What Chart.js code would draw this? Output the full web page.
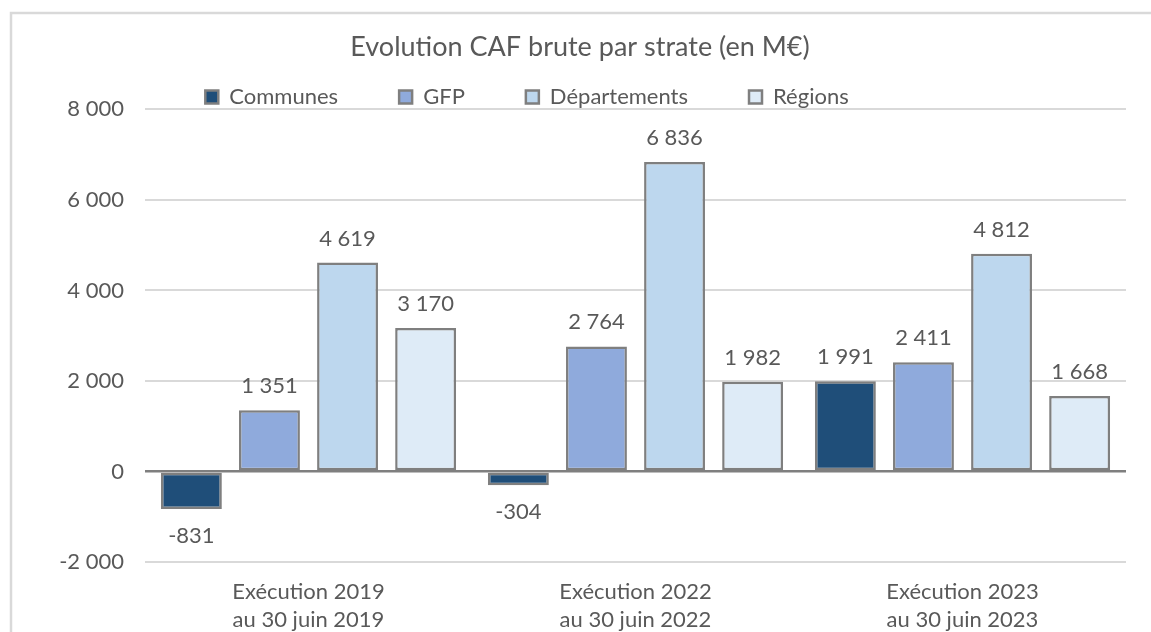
<!DOCTYPE html>
<html>
<head>
<meta charset="utf-8">
<script src="https://cdn.jsdelivr.net/npm/chart.js@4/dist/chart.umd.min.js"></script>
<style>
  html, body { margin: 0; padding: 0; background: #fff; }
  #wrap { width: 1151px; height: 632px; position: relative; }
</style>
</head>
<body>
<div id="wrap"><canvas id="caf-chart"></canvas></div>
<script>
const categories = [
  ['Exécution 2019', 'au 30 juin 2019'],
  ['Exécution 2022', 'au 30 juin 2022'],
  ['Exécution 2023', 'au 30 juin 2023']
];
const seriesNames = ['Communes', 'GFP', 'Départements', 'Régions'];
const communes = [-831, -304, 1991];
const gfp = [1351, 2764, 2411];
const departements = [4619, 6836, 4812];
const regions = [3170, 1982, 1668];
const yTicks = [-2000, 0, 2000, 4000, 6000, 8000];

const colors = ['#1F4E79', '#8FAADC', '#BDD7EE', '#DEEBF7'];
const textColor = '#595959';
const fontFamily = 'Lato, "Open Sans", sans-serif';
const legendGap = 61;

// nombre avec espace comme séparateur de milliers
function fmt(v) {
  const s = Math.abs(v).toString().replace(/\B(?=(\d{3})+(?!\d))/g, ' ');
  return (v < 0 ? '-' : '') + s;
}

const frame = {
  id: 'frame',
  beforeDraw(chart) {
    const ctx = chart.ctx;
    ctx.save();
    ctx.strokeStyle = '#D9D9D9';
    ctx.lineWidth = 2.5;
    ctx.beginPath();
    ctx.moveTo(11, 632);
    ctx.lineTo(11, 13);
    ctx.lineTo(1151, 13);
    ctx.stroke();
    ctx.restore();
  }
};

const valueLabels = {
  id: 'valueLabels',
  afterDatasetsDraw(chart) {
    const ctx = chart.ctx;
    ctx.save();
    ctx.font = '22px ' + fontFamily;
    ctx.fillStyle = textColor;
    ctx.textAlign = 'center';
    ctx.textBaseline = 'middle';
    chart.data.datasets.forEach((ds, i) => {
      chart.getDatasetMeta(i).data.forEach((bar, j) => {
        const v = ds.data[j];
        const y = v >= 0 ? bar.y - 24 : bar.y + 27;
        ctx.fillText(fmt(v), bar.x, y);
      });
    });
    ctx.restore();
  }
};

// legend takes 34px in the layout, but is drawn higher so its big padding fits
const legendFix = {
  id: 'legendFix',
  beforeInit(chart) {
    const orig = chart.legend.fit;
    chart.legend.fit = function () {
      orig.call(this);
      this.height = 34;
    };
  },
  afterLayout(chart) {
    const lg = chart.legend;
    lg.top = 97 - 11 - legendGap;
    lg.height = lg.bottom - lg.top;
    lg.left -= 36;
    lg.right -= 36;
    const t = chart.titleBlock;
    t.left += 17;
    t.right += 17;
  }
};

const ctx = document.getElementById('caf-chart').getContext('2d');
new Chart(ctx, {
  type: 'bar',
  data: {
    labels: categories,
    datasets: [communes, gfp, departements, regions].map((d, i) => ({
      label: seriesNames[i],
      data: d,
      backgroundColor: colors[i],
      borderColor: '#7F7F7F',
      borderWidth: 2.5,
      borderSkipped: false,
      categoryPercentage: 0.955,
      barPercentage: 0.78
    }))
  },
  options: {
    responsive: true,
    maintainAspectRatio: false,
    animation: false,
    layout: { padding: { left: 0, right: 25, top: 0, bottom: 0 } },
    plugins: {
      title: {
        display: true,
        text: 'Evolution CAF brute par strate (en M€)',
        color: textColor,
        font: { family: fontFamily, size: 27, weight: 'normal' },
        padding: { top: 31, bottom: 12 }
      },
      legend: {
        position: 'top',
        labels: {
          color: textColor,
          font: { family: fontFamily, size: 22 },
          boxWidth: 13,
          boxHeight: 13,
          padding: legendGap
        }
      },
      tooltip: { enabled: false }
    },
    scales: {
      x: {
        grid: { display: false, drawTicks: false },
        border: { display: false },
        ticks: {
          color: textColor,
          font: { family: fontFamily, size: 22, lineHeight: 1.27 },
          padding: 16,
          maxRotation: 0
        },
        afterFit(scale) { scale.height = 70; }
      },
      y: {
        min: yTicks[0],
        max: yTicks[yTicks.length - 1],
        afterBuildTicks(scale) { scale.ticks = yTicks.map(v => ({ value: v })); },
        grid: {
          drawTicks: false,
          color: c => (c.tick && c.tick.value === 0 ? '#7F7F7F' : '#D9D9D9'),
          lineWidth: c => (c.tick && c.tick.value === 0 ? 2.5 : 2)
        },
        border: { display: false },
        ticks: {
          color: textColor,
          font: { family: fontFamily, size: 22 },
          padding: 21,
          callback: v => fmt(v)
        },
        afterFit(scale) { scale.width = 145; }
      }
    }
  },
  plugins: [frame, valueLabels, legendFix]
});
</script>
</body>
</html>
